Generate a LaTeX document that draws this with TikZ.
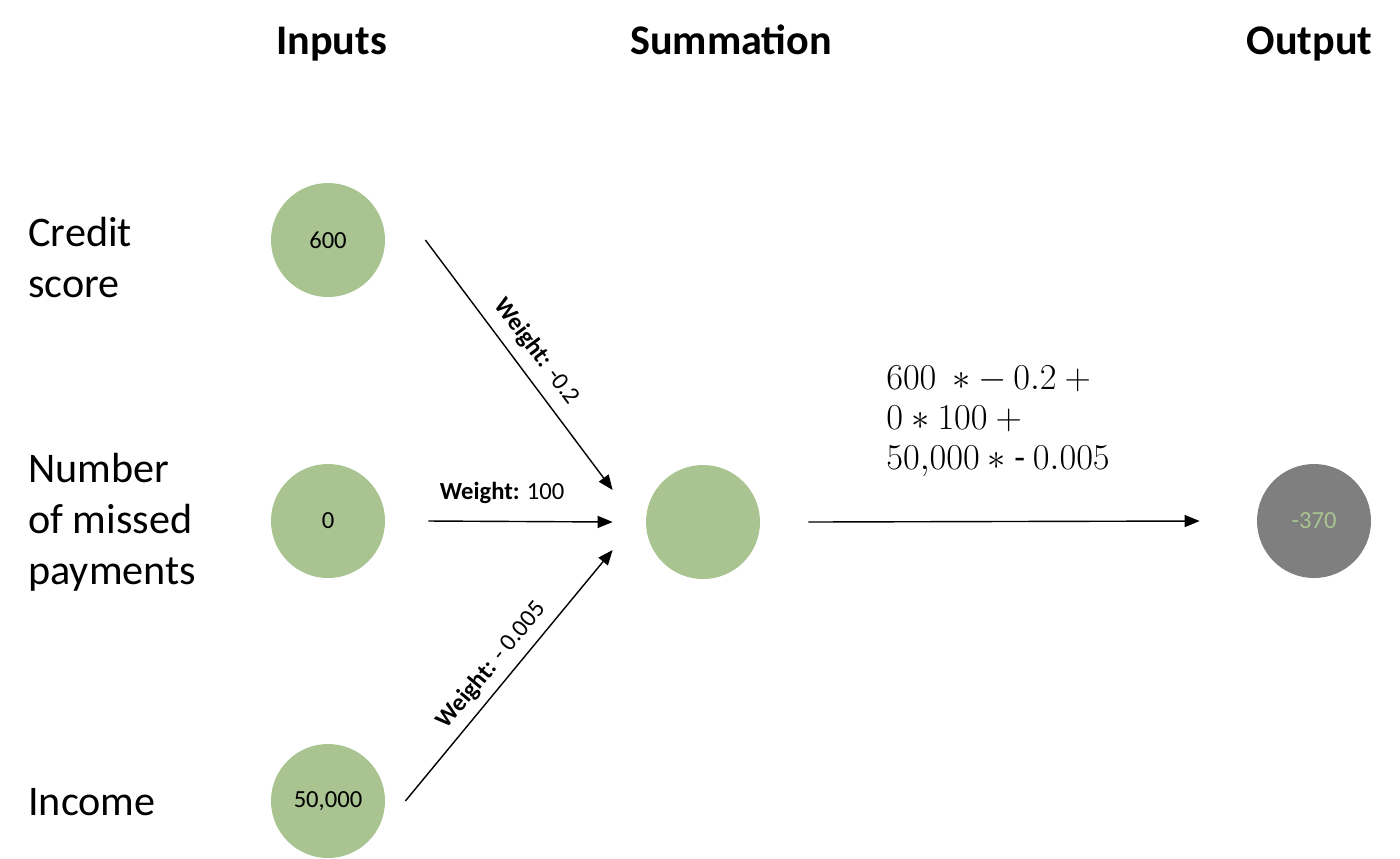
\documentclass[tikz,border=0pt]{standalone}
\usepackage{fontspec}
\setmainfont{Carlito}
\usetikzlibrary{arrows.meta, positioning}
\definecolor{nngreen}{RGB}{169,196,145}
\definecolor{nngray}{RGB}{127,127,127}

\begin{document}
\begin{tikzpicture}[
    neuron/.style={circle, fill=nngreen, minimum size=2.28cm, inner sep=0pt,
        font=\fontsize{14}{16}\selectfont},
    header/.style={anchor=base, font=\fontsize{24}{28}\selectfont\bfseries},
    sidelabel/.style={anchor=west, inner sep=0pt, align=left,
        font=\fontsize{24}{29}\selectfont},
    weightlabel/.style={font=\fontsize{14}{16}\selectfont},
    link/.style={line width=0.8pt, -{Triangle[length=0.3cm,width=0.24cm]}}
]
            % Define dimensions
            \def\inx{6.56}
            \def\labx{0.56}
            \useasboundingbox (0,0) rectangle (28,-17.16);
            % Column headers
            \node[header] (hin)  at (6.63,-1.08)  {Inputs};
            \node[header] (hsum) at (14.62,-1.08) {Summation};
            \node[header] (hout) at (26.19,-1.08) {Output};
            % Input neurons and their labels
            \node[neuron] (in1) at (\inx,-4.80)  {600};
            \node[neuron] (in2) at (\inx,-10.42) {0};
            \node[neuron] (in3) at (\inx,-16.02) {50,000};
            \node[sidelabel] (lab1) at (\labx,-5.15)  {Credit\\score};
            \node[sidelabel] (lab2) at (\labx,-10.44) {Number\\of missed\\payments};
            \node[sidelabel] (lab3) at (\labx,-16.04) {Income};
            % Summation and output neurons
            \node[neuron] (sum) at (14.06,-10.44) {};
            \node[neuron, fill=nngray, text=nngreen] (out) at (26.28,-10.42) {-370};
            % Weighted connections
            \draw[link] ([xshift=0.8cm]in1.east) -- ([shift={(-0.66,0.64)}]sum.west)
                node[weightlabel, pos=0.5, sloped, above=0.1cm] {\textbf{Weight:} -0.2};
            \draw[link] ([xshift=0.86cm]in2.east) -- ([xshift=-0.66cm]sum.west)
                node[weightlabel, pos=0.4, above=0.22cm] {\textbf{Weight:} 100};
            \draw[link] ([xshift=0.4cm]in3.east) -- ([shift={(-0.66,-0.56)}]sum.west)
                node[weightlabel, pos=0.49, sloped, above=0.05cm] {\textbf{Weight:} - 0.005};
            \draw[link] ([xshift=0.96cm]sum.east) -- ([xshift=-1.14cm]out.west);
            % Weighted sum
            \node[anchor=west, inner sep=0pt, align=left,
                font=\fontsize{20}{22.7}\selectfont] (calc) at (17.72,-8.42)
                {$600\ \ast - \,0.2 +{}$\\$0 * 100 +{}$\\$50{,}000 * \mbox{-}\ 0.005$};
        \end{tikzpicture}
\end{document}
